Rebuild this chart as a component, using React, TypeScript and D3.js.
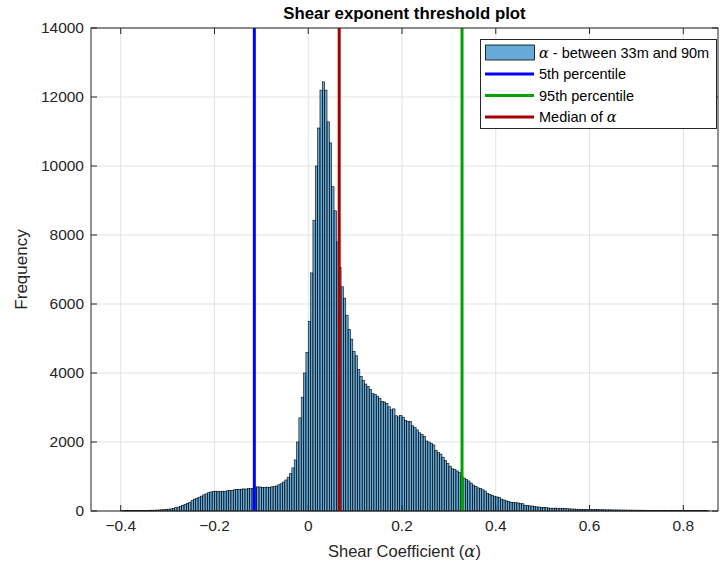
import React from "react";
import * as d3 from "d3";

// Histogram of shear exponent between 33 m and 90 m, bins of 0.005 starting at -0.4
const binStart = -0.4;
const binWidth = 0.005;
const counts = [
  8, 10, 9, 12, 11, 14, 13, 16, 15, 18, 20, 19, 22, 24, 23, 27, 30, 33, 38, 45,
  52, 62, 78, 95, 112, 132, 158, 190, 220, 250, 300, 345, 370, 400, 430, 470, 495, 530, 550, 565,
  575, 570, 565, 575, 572, 585, 590, 600, 615, 625, 618, 632, 640, 635, 652, 648, 655, 680, 700, 695,
  688, 680, 692, 685, 700, 705, 725, 760, 790, 840, 900, 980, 1080, 1250, 1480, 2000, 2700, 3300, 4000, 4600,
  5500, 6900, 8430, 10000, 11100, 12200, 12440, 12200, 11280, 10670, 9400, 8700, 7800, 7060, 6500, 6170, 5675, 5260, 4980, 4630,
  4500, 4100, 3900, 3780, 3680, 3610, 3520, 3400, 3385, 3330, 3270, 3180, 3160, 3115, 3020, 2930, 2960, 2760, 2725, 2770,
  2720, 2630, 2600, 2590, 2470, 2420, 2350, 2265, 2220, 2165, 2030, 2000, 1960, 1915, 1760, 1690, 1650, 1560, 1460, 1380,
  1300, 1225, 1200, 1160, 1115, 1000, 955, 915, 870, 810, 750, 715, 670, 648, 615, 578, 505, 478, 455, 428,
  408, 392, 345, 320, 295, 270, 255, 246, 240, 236, 215, 210, 168, 165, 148, 145, 138, 120, 115, 105,
  100, 96, 88, 82, 80, 84, 78, 80, 72, 70, 66, 62, 58, 56, 52, 50, 51, 48, 46, 42,
  41, 40, 38, 39, 36, 37, 35, 33, 34, 32, 31, 30, 30, 28, 27, 27, 26, 25, 25, 24,
  23, 24, 22, 22, 21, 21, 20, 20, 19, 19, 18, 18, 17, 17, 16, 16, 15, 15, 14, 14,
  13, 13, 12, 12, 11, 11, 10, 10, 9, 9, 8,
];

const xTicks = [-0.4, -0.2, 0, 0.2, 0.4, 0.6, 0.8];
const yTicks = [0, 2000, 4000, 6000, 8000, 10000, 12000, 14000];

// Reference lines
const p5 = -0.115;
const p95 = 0.328;
const medianAlpha = 0.066;

const legendItems = [
  { kind: "patch", label: "between 33m and 90m", alpha: true },
  { kind: "line", label: "5th percentile", color: "#0000ff" },
  { kind: "line", label: "95th percentile", color: "#00a300" },
  { kind: "line", label: "Median of ", color: "#a80000", alphaAfter: true },
];

const W = 726;
const H = 567;
const FONT = "'Liberation Sans', Arial, Helvetica, sans-serif";
const SERIF = "'DejaVu Serif', 'Liberation Serif', serif";
const AXIS = "#262626";
const BAR_FILL = "rgba(0,114,189,0.6)";

export default function App() {
  const left = 91;
  const right = 718;
  const top = 28;
  const bottom = 511;

  const x = d3.scaleLinear().domain([-0.4634, 0.874]).range([left, right]);
  const y = d3.scaleLinear().domain([0, 14000]).range([bottom, top]);

  const bins = counts.map((c, i) => {
    const x0 = binStart + i * binWidth;
    return { x0, x1: x0 + binWidth, c };
  });

  const fmtX = (v: number) => (v === 0 ? "0" : d3.format(".1f")(v));
  const tickLen = 6;

  const legX = 480.5;
  const legY = 39.5;
  const legW = 236;
  const legH = 89;
  const rowY = (i: number) => 52.5 + i * 21.5;

  return (
    <svg
      width={W}
      height={H}
      style={{ position: "absolute", left: 0, top: 0, background: "#fff" }}
      fontFamily={FONT}
    >
      <rect x={0} y={0} width={W} height={H} fill="#fff" />

      {/* grid */}
      <g stroke="#e3e3e3" strokeWidth={1}>
        {xTicks.map((t) => (
          <line key={"gx" + t} x1={x(t)} x2={x(t)} y1={top} y2={bottom} />
        ))}
        {yTicks.map((t) => (
          <line key={"gy" + t} x1={left} x2={right} y1={y(t)} y2={y(t)} />
        ))}
      </g>

      {/* histogram bars */}
      <g fill={BAR_FILL} stroke="#000" strokeWidth={0.6}>
        {bins.map((b, i) => (
          <rect
            key={i}
            x={x(b.x0)}
            width={x(b.x1) - x(b.x0)}
            y={y(b.c)}
            height={y(0) - y(b.c)}
          />
        ))}
      </g>

      {/* percentile and median lines */}
      <line x1={x(p5)} x2={x(p5)} y1={top} y2={bottom} stroke="#0000ff" strokeWidth={3} />
      <line x1={x(p95)} x2={x(p95)} y1={top} y2={bottom} stroke="#00a300" strokeWidth={3} />
      <line x1={x(medianAlpha)} x2={x(medianAlpha)} y1={top} y2={bottom} stroke="#a80000" strokeWidth={3} />

      {/* axes box and ticks */}
      <rect x={left} y={top} width={right - left} height={bottom - top} fill="none" stroke={AXIS} strokeWidth={1} />
      <g stroke={AXIS} strokeWidth={1}>
        {xTicks.map((t) => (
          <g key={"tx" + t}>
            <line x1={x(t)} x2={x(t)} y1={bottom} y2={bottom - tickLen} />
            <line x1={x(t)} x2={x(t)} y1={top} y2={top + tickLen} />
          </g>
        ))}
        {yTicks.map((t) => (
          <g key={"ty" + t}>
            <line x1={left} x2={left + tickLen} y1={y(t)} y2={y(t)} />
            <line x1={right} x2={right - tickLen} y1={y(t)} y2={y(t)} />
          </g>
        ))}
      </g>

      {/* tick labels */}
      <g fill={AXIS} fontSize={15.5}>
        {xTicks.map((t) => (
          <text key={"lx" + t} x={x(t)} y={bottom + 20} textAnchor="middle">
            {fmtX(t)}
          </text>
        ))}
        {yTicks.map((t) => (
          <text key={"ly" + t} x={left - 7} y={y(t)} dy="0.35em" textAnchor="end">
            {t}
          </text>
        ))}
      </g>

      {/* axis titles */}
      <text x={(left + right) / 2} y={557} textAnchor="middle" fontSize={16.5} fill={AXIS}>
        Shear Coefficient (<tspan fontFamily={SERIF} fontStyle="italic">α</tspan>)
      </text>
      <text
        transform={`translate(27,${(top + bottom) / 2}) rotate(-90)`}
        textAnchor="middle"
        fontSize={17}
        fill={AXIS}
      >
        Frequency
      </text>
      <text x={(left + right) / 2} y={19} textAnchor="middle" fontSize={16.8} fontWeight="bold" fill="#000">
        Shear exponent threshold plot
      </text>

      {/* legend */}
      <rect x={legX} y={legY} width={legW} height={legH} fill="#fff" stroke={AXIS} strokeWidth={1} />
      {legendItems.map((it, i) => (
        <g key={"leg" + i}>
          {it.kind === "patch" ? (
            <rect x={485.5} y={rowY(i) - 7.5} width={49} height={15} fill={BAR_FILL} stroke="#000" strokeWidth={0.8} />
          ) : (
            <line x1={485} x2={534} y1={rowY(i)} y2={rowY(i)} stroke={it.color} strokeWidth={3} />
          )}
          <text x={539} y={rowY(i)} dy="0.35em" fontSize={14.5} fill="#000">
            {it.alpha ? (
              <>
                <tspan fontFamily={SERIF} fontStyle="italic">α</tspan>
                {" - " + it.label}
              </>
            ) : (
              <>
                {it.label}
                {it.alphaAfter ? (
                  <tspan fontFamily={SERIF} fontStyle="italic">α</tspan>
                ) : null}
              </>
            )}
          </text>
        </g>
      ))}
    </svg>
  );
}
